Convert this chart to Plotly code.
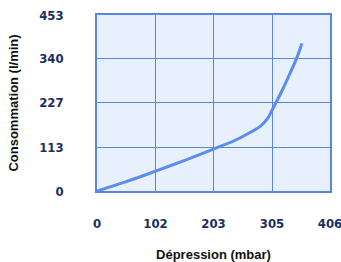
import plotly.graph_objects as go

depression = [0, 51, 102, 153, 203, 240, 266, 285, 297, 305, 312, 320, 333, 348, 357]
consommation = [0, 24, 51, 79, 108, 130, 150, 167, 186, 208, 228, 251, 292, 342, 380]
x_ticks = [0, 102, 203, 305, 406]
y_ticks = [0, 113, 227, 340, 453]

fig = go.Figure()
fig.add_trace(go.Scatter(x=depression, y=consommation, mode="lines",
                         line=dict(color="#5b8def", width=3, shape="spline", smoothing=1.0),
                         hoverinfo="skip"))

tickfont = dict(family="DejaVu Sans Condensed", size=13, color="#1c2f5e", weight="bold")
fig.update_layout(
    width=341, height=262,
    margin=dict(l=97, r=11, t=15, b=71, autoexpand=False),
    paper_bgcolor="white", plot_bgcolor="#e9f0fd",
    showlegend=False,
    xaxis=dict(range=[0, 406], tickvals=x_ticks, ticktext=[str(v) for v in x_ticks],
               showgrid=True, gridcolor="#5b87d9", gridwidth=1.2,
               showline=True, linecolor="#5b87d9", linewidth=1.5, mirror=True,
               zeroline=False, ticks="outside", ticklen=20, tickcolor="rgba(0,0,0,0)",
               tickfont=tickfont, automargin=False, ticklabeloverflow="allow",
               title=dict(text="Dépression (mbar)", standoff=20,
                          font=dict(family="Liberation Sans", size=13, color="#111", weight="bold"))),
    yaxis=dict(range=[0, 453], tickvals=y_ticks, ticktext=[str(v) for v in y_ticks],
               showgrid=True, gridcolor="#5b87d9", gridwidth=1.2,
               showline=True, linecolor="#5b87d9", linewidth=1.5, mirror=True,
               zeroline=False, ticks="outside", ticklen=29, tickcolor="rgba(0,0,0,0)",
               tickfont=tickfont, automargin=False, ticklabeloverflow="allow",
               title=dict(text="Consommation (l/min)", standoff=18,
                          font=dict(family="Liberation Sans", size=13, color="#111", weight="bold"))),
)
fig.write_html("out.html", config={"displayModeBar": False},
               post_script="document.body.style.margin='0';document.body.style.overflow='hidden';")
